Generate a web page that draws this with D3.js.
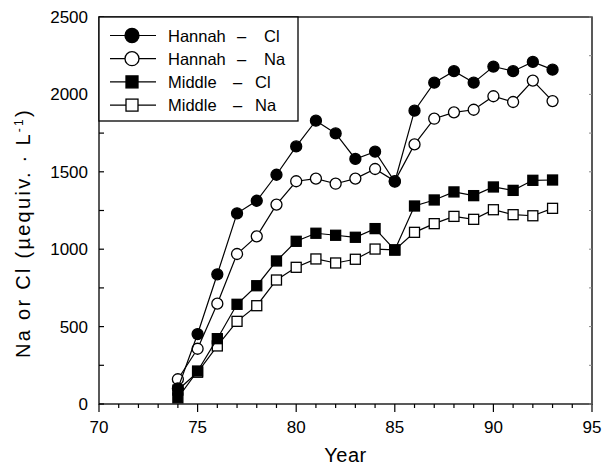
<!DOCTYPE html>
<html>
<head>
<meta charset="utf-8">
<script src="https://cdn.jsdelivr.net/npm/d3@7"></script>
<style>
  body { margin: 0; background: #fff; }
  svg { display: block; }
  text { font-family: "Liberation Sans", Arial, sans-serif; fill: #000; }
</style>
</head>
<body>
<svg width="603" height="468"></svg>
<script>
// data
const years = [74,75,76,77,78,79,80,81,82,83,84,85,86,87,88,89,90,91,92,93];
const hannahCl = [100,452,838,1232,1313,1481,1664,1830,1748,1583,1630,1436,1895,2076,2150,2076,2180,2150,2210,2160];
const hannahNa = [160,357,648,969,1083,1288,1439,1456,1423,1456,1518,1440,1677,1843,1884,1901,1988,1951,2089,1957];
const middleCl = [40,213,422,644,764,924,1051,1103,1090,1077,1133,995,1279,1318,1370,1346,1402,1380,1445,1447];
const middleNa = [90,205,375,534,635,801,883,937,911,935,1001,995,1109,1165,1212,1193,1255,1223,1216,1264];
const seriesNames = ["Hannah", "Hannah", "Middle", "Middle"];
const ions = ["Cl", "Na", "Cl", "Na"];
const xTicks = [70,75,80,85,90,95];
const yTicks = [0,500,1000,1500,2000,2500];

const series = [
  {vals: hannahCl, shape: "circle", fill: "#000"},
  {vals: hannahNa, shape: "circle", fill: "#fff"},
  {vals: middleCl, shape: "square", fill: "#000"},
  {vals: middleNa, shape: "square", fill: "#fff"}
];

const svg = d3.select("svg");
const x = d3.scaleLinear().domain([70,95]).range([99,592]);
const y = d3.scaleLinear().domain([0,2500]).range([404,17]);

// frame
svg.append("rect")
  .attr("x", x(70)).attr("y", y(2500))
  .attr("width", x(95)-x(70)).attr("height", y(0)-y(2500))
  .attr("fill", "none").attr("stroke", "#000").attr("stroke-width", 1.3);

// x ticks (outward), every year, longer at 5
svg.append("g").selectAll("line")
  .data(d3.range(70,96))
  .join("line")
  .attr("x1", d => x(d)).attr("x2", d => x(d))
  .attr("y1", y(0)).attr("y2", d => y(0) + (d % 5 === 0 ? 8 : 4))
  .attr("stroke", "#000").attr("stroke-width", 1.2);

svg.append("g").selectAll("text")
  .data(xTicks)
  .join("text")
  .attr("x", d => x(d)).attr("y", 433)
  .attr("text-anchor", "middle")
  .attr("font-size", 17)
  .text(d => d);

// y ticks (inward) every 250
svg.append("g").selectAll("line")
  .data(d3.range(0,2501,250))
  .join("line")
  .attr("x1", x(70)).attr("x2", x(70) + 5)
  .attr("y1", d => y(d)).attr("y2", d => y(d))
  .attr("stroke", "#000").attr("stroke-width", 1.2);

svg.append("g").selectAll("line")
  .data(d3.range(0,2501,250))
  .join("line")
  .attr("x1", x(95)).attr("x2", x(95) - 3)
  .attr("y1", d => y(d)).attr("y2", d => y(d))
  .attr("stroke", "#888").attr("stroke-width", 1);

svg.append("g").selectAll("text")
  .data(yTicks)
  .join("text")
  .attr("x", 88).attr("y", d => y(d) + 6)
  .attr("text-anchor", "end")
  .attr("font-size", 17)
  .text(d => d);

// axis titles
svg.append("text")
  .attr("x", x(82.5)).attr("y", 462)
  .attr("text-anchor", "middle")
  .attr("font-size", 20)
  .attr("letter-spacing", 0.5)
  .text("Year");

const yl = svg.append("text")
  .attr("transform", "translate(30,233) rotate(-90)")
  .attr("text-anchor", "middle")
  .attr("font-size", 20);
yl.append("tspan").text("Na or Cl (µequiv. · L");
yl.append("tspan").attr("dy", -7).attr("font-size", 12).text("-1");
yl.append("tspan").attr("dy", 7).text(")");
// stretch the label to the length it has in the figure (~250px)
const ylLen = yl.node().getComputedTextLength();
const ylChars = "Na or Cl (µequiv. · L-1)".length;
yl.attr("letter-spacing", Math.max(0, (250 - ylLen) / ylChars));

// lines and markers
const line = d3.line().x((d, i) => x(years[i])).y(d => y(d));

function marker(g, shape, fill, cx, cy, sz) {
  if (shape === "circle") {
    g.append("circle").attr("cx", cx).attr("cy", cy).attr("r", sz)
      .attr("fill", fill).attr("stroke", "#000").attr("stroke-width", 1.3);
  } else {
    g.append("rect").attr("x", cx - sz).attr("y", cy - sz).attr("width", 2 * sz).attr("height", 2 * sz)
      .attr("fill", fill).attr("stroke", "#000").attr("stroke-width", 1.3);
  }
}

// open series first so the filled ones sit on top where they overlap
[3,1,2,0].forEach(si => {
  const s = series[si];
  const g = svg.append("g");
  g.append("path").datum(s.vals).attr("d", line)
    .attr("fill", "none").attr("stroke", "#000").attr("stroke-width", 1.2);
  s.vals.forEach((v, i) => marker(g, s.shape, s.fill, x(years[i]), y(v), s.shape === "circle" ? 5.5 : 5));
});

// legend
const lg = svg.append("g");
lg.append("rect").attr("x", x(70)).attr("y", y(2500))
  .attr("width", 199).attr("height", 104)
  .attr("fill", "#fff").attr("stroke", "#000").attr("stroke-width", 1.3);

series.forEach((s, i) => {
  const ly = 35.5 + i * 23.2;
  lg.append("line").attr("x1", 110).attr("x2", 156).attr("y1", ly).attr("y2", ly)
    .attr("stroke", "#000").attr("stroke-width", 1.2);
  marker(lg, s.shape, s.fill, 132, ly, s.shape === "circle" ? 7 : 6);
  lg.append("text").attr("x", 168).attr("y", ly + 6).attr("font-size", 16.5).text(seriesNames[i]);
  lg.append("text").attr("x", i < 2 ? 237 : 233).attr("y", ly + 6).attr("font-size", 16.5).text("–");
  lg.append("text").attr("x", i < 2 ? 264 : 255).attr("y", ly + 6).attr("font-size", 16.5).text(ions[i]);
});
</script>
</body>
</html>
